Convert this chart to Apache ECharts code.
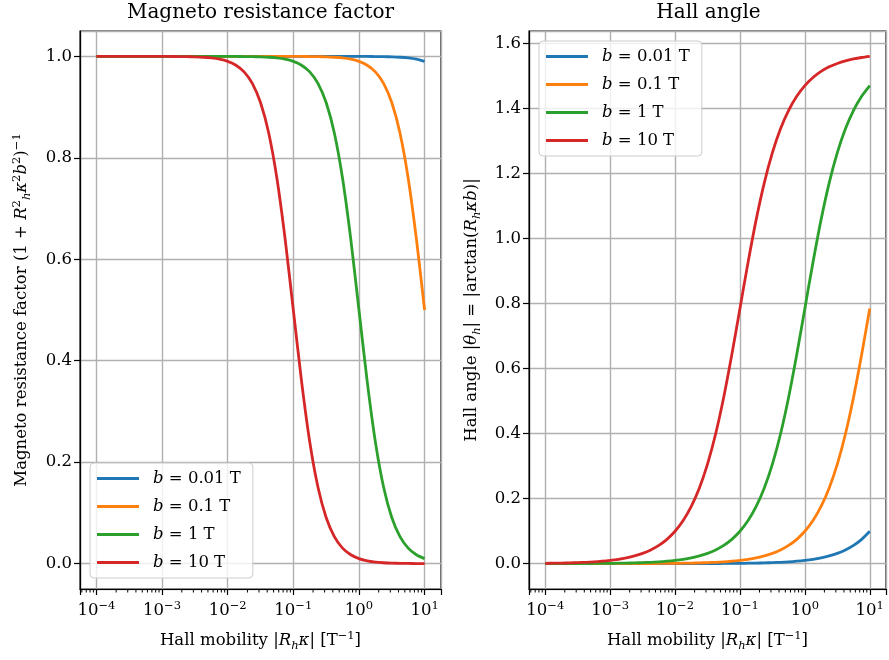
<!DOCTYPE html>
<html>
<head>
<meta charset="utf-8">
<script src="https://cdn.jsdelivr.net/npm/echarts@6/dist/echarts.min.js"></script>
<style>html,body{margin:0;padding:0;background:#fff;}#c{width:889px;height:660px;}</style>
</head>
<body>
<div id="c"></div>
<script>
// Hall mobility |R_h kappa| (x), 1/8-decade steps from 1e-4 to 1e1
const mobility = [1e-4,1.334e-4,1.778e-4,2.371e-4,3.162e-4,4.217e-4,5.623e-4,7.499e-4,
  1e-3,1.334e-3,1.778e-3,2.371e-3,3.162e-3,4.217e-3,5.623e-3,7.499e-3,
  1e-2,1.334e-2,1.778e-2,2.371e-2,3.162e-2,4.217e-2,5.623e-2,7.499e-2,
  1e-1,1.334e-1,1.778e-1,2.371e-1,3.162e-1,4.217e-1,5.623e-1,7.499e-1,
  1,1.334,1.778,2.371,3.162,4.217,5.623,7.499,10];
const seriesNames = ['b = 0.01 T','b = 0.1 T','b = 1 T','b = 10 T'];
const colors = ['#1f77b4','#ff7f0e','#2ca02c','#d62728'];
// Magneto resistance factor
const mr_b001 = [1,1,1,1,1,1,1,1,1,1,1,1,1,1,1,1,1,1,1,1,1,1,1,1,1,1,1,1,1,1,1,
  0.99994,0.9999,0.99982,0.99968,0.99944,0.999,0.99823,0.99685,0.99441,0.9901];
const mr_b01 = [1,1,1,1,1,1,1,1,1,1,1,1,1,1,1,1,1,1,1,1,1,1,1,
  0.99994,0.9999,0.99982,0.99968,0.99944,0.999,0.99823,0.99685,0.99441,0.9901,
  0.98253,0.96935,0.94676,0.90909,0.84902,0.75975,0.64006,0.5];
const mr_b1 = [1,1,1,1,1,1,1,1,1,1,1,1,1,1,1,
  0.99994,0.9999,0.99982,0.99968,0.99944,0.999,0.99823,0.99685,0.99441,0.9901,
  0.98253,0.96935,0.94676,0.90909,0.84902,0.75975,0.64006,0.5,
  0.35994,0.24025,0.15098,0.09091,0.05324,0.03065,0.01747,0.0099];
const mr_b10 = [1,1,1,1,1,1,1,
  0.99994,0.9999,0.99982,0.99968,0.99944,0.999,0.99823,0.99685,0.99441,0.9901,
  0.98253,0.96935,0.94676,0.90909,0.84902,0.75975,0.64006,0.5,
  0.35994,0.24025,0.15098,0.09091,0.05324,0.03065,0.01747,0.0099,
  0.00559,0.00315,0.00178,0.001,0.00056,0.00032,0.00018,0.0001];
// Hall angle
const ha_b001 = [0.000001,0.0000013,0.0000018,0.0000024,0.0000032,0.0000042,0.0000056,0.0000075,
  0.00001,0.000013,0.000018,0.000024,0.000032,0.000042,0.000056,0.000075,
  0.0001,0.00013,0.00018,0.00024,0.00032,0.00042,0.00056,0.00075,
  0.001,0.00133,0.00178,0.00237,0.00316,0.00422,0.00562,0.0075,
  0.01,0.01333,0.01778,0.02371,0.03161,0.04215,0.05618,0.07485,0.09967];
const ha_b01 = [0.00001,0.000013,0.000018,0.000024,0.000032,0.000042,0.000056,0.000075,
  0.0001,0.00013,0.00018,0.00024,0.00032,0.00042,0.00056,0.00075,
  0.001,0.00133,0.00178,0.00237,0.00316,0.00422,0.00562,0.0075,
  0.01,0.01333,0.01778,0.02371,0.03161,0.04215,0.05618,0.07485,
  0.09967,0.13257,0.17599,0.23284,0.30628,0.39907,0.51227,0.64343,0.7854];
const ha_b1 = [0.0001,0.00013,0.00018,0.00024,0.00032,0.00042,0.00056,0.00075,
  0.001,0.00133,0.00178,0.00237,0.00316,0.00422,0.00562,0.0075,
  0.01,0.01333,0.01778,0.02371,0.03161,0.04215,0.05618,0.07485,
  0.09967,0.13257,0.17599,0.23284,0.30628,0.39907,0.51227,0.64343,
  0.7854,0.92736,1.05853,1.17172,1.26452,1.33796,1.39481,1.43823,1.47113];
const ha_b10 = [0.001,0.00133,0.00178,0.00237,0.00316,0.00422,0.00562,0.0075,
  0.01,0.01333,0.01778,0.02371,0.03161,0.04215,0.05618,0.07485,
  0.09967,0.13257,0.17599,0.23284,0.30628,0.39907,0.51227,0.64343,
  0.7854,0.92736,1.05853,1.17172,1.26452,1.33796,1.39481,1.43823,
  1.47113,1.49595,1.51462,1.52865,1.53918,1.54709,1.55302,1.55746,1.5608];
// minor tick positions on the log x axis
const minorTicks = [6e-5,7e-5,8e-5,9e-5,
  2e-4,3e-4,4e-4,5e-4,6e-4,7e-4,8e-4,9e-4,
  2e-3,3e-3,4e-3,5e-3,6e-3,7e-3,8e-3,9e-3,
  2e-2,3e-2,4e-2,5e-2,6e-2,7e-2,8e-2,9e-2,
  0.2,0.3,0.4,0.5,0.6,0.7,0.8,0.9,
  2,3,4,5,6,7,8,9];

const FONT = 'DejaVu Serif';
const FS = 16.5;
const rich = {
  n: {fontFamily: FONT, fontSize: FS, lineHeight: 22, color: '#000'},
  i: {fontFamily: FONT, fontSize: FS, lineHeight: 22, fontStyle: 'italic', color: '#000'},
  sup: {fontFamily: FONT, fontSize: 11.5, lineHeight: 9, verticalAlign: 'top', color: '#000'},
  sub: {fontFamily: FONT, fontSize: 11.5, lineHeight: 15, verticalAlign: 'bottom', fontStyle: 'italic', color: '#000'}
};
function pair(xs, ys){ return xs.map((x, k) => [x, ys[k]]); }
const mrData = [mr_b001, mr_b01, mr_b1, mr_b10];
const haData = [ha_b001, ha_b01, ha_b1, ha_b10];

function xAxisCfg(gi){
  return {
    type: 'log', logBase: 10, gridIndex: gi, min: 5.6234e-5, max: 17.7828,
    name: '{n|Hall mobility |}{i|R}{sub|h}{i|κ}{n|| [T}{sup|−1}{n|]}',
    nameLocation: 'middle', nameGap: 41,
    nameTextStyle: {rich: rich},
    axisLine: {show: true, onZero: false, lineStyle: {color: '#000', width: 1.2}},
    axisTick: {show: true, length: 6, lineStyle: {color: '#000', width: 1.2}},
    axisLabel: {margin: 11, rich: rich, formatter: function(v){
      const l = Math.log10(v); const e = Math.round(l);
      if (Math.abs(l - e) > 1e-6) return '';
      return '{n|10}{sup|' + (e < 0 ? '−' + (-e) : e) + '}';
    }},
    splitLine: {show: true, lineStyle: {color: '#b0b0b0', width: 1.4}}
  };
}
function yAxisCfg(gi, mn, mx, split, name, gap){
  return {
    type: 'value', gridIndex: gi, min: mn, max: mx, splitNumber: split, minInterval: 0.2, maxInterval: 0.2,
    name: name, nameLocation: 'middle', nameGap: gap, nameRotate: 90,
    nameTextStyle: {rich: rich},
    axisLine: {show: true, onZero: false, lineStyle: {color: '#000', width: 1.2}},
    axisTick: {show: true, length: 6, lineStyle: {color: '#000', width: 1.2}},
    axisLabel: {margin: 8, fontFamily: FONT, fontSize: FS, color: '#000', showMinLabel: false, showMaxLabel: false,
      formatter: function(v){
        const r = Math.round(v * 5) / 5;
        return Math.abs(v - r) < 1e-6 ? r.toFixed(1) : '';
      }},
    splitLine: {show: true, lineStyle: {color: '#b0b0b0', width: 1.4}}
  };
}
const series = [];
for (let k = 0; k < 4; k++) {
  series.push({type: 'line', name: seriesNames[k], xAxisIndex: 0, yAxisIndex: 0,
    data: pair(mobility, mrData[k]), showSymbol: false, smooth: 0.25,
    lineStyle: {width: 2.8, color: colors[k], join: 'round'}, itemStyle: {color: colors[k]}, z: 3 + k});
}
for (let k = 0; k < 4; k++) {
  series.push({type: 'line', name: seriesNames[k], xAxisIndex: 1, yAxisIndex: 1,
    data: pair(mobility, haData[k]), showSymbol: false, smooth: 0.25,
    lineStyle: {width: 2.8, color: colors[k], join: 'round'}, itemStyle: {color: colors[k]}, z: 3 + k});
}
const yMins = [-0.05, -0.078];
for (let g = 0; g < 2; g++) {
  series.push({type: 'custom', xAxisIndex: g, yAxisIndex: g, clip: false, silent: true,
    data: minorTicks.map(v => [v]),
    renderItem: function(params, api){
      const p = api.coord([api.value(0), yMins[g]]);
      return {type: 'line', shape: {x1: p[0], y1: p[1], x2: p[0], y2: p[1] + 3.5},
        style: {stroke: '#000', lineWidth: 1}};
    }});
}
function legendCfg(left, top){
  return {orient: 'vertical', left: left, top: top, data: seriesNames,
    icon: 'rect', itemWidth: 42, itemHeight: 3, itemGap: 6,
    padding: [4.5, 12, 4.5, 7],
    backgroundColor: 'rgba(255,255,255,0.8)', borderColor: '#cccccc', borderWidth: 1, borderRadius: 4,
    selectedMode: false,
    formatter: function(name){ return '{i|b}{n|' + name.slice(1) + '}'; },
    textStyle: {padding: [0, 0, 0, 9], rich: rich, lineHeight: 22}};
}
const chart = echarts.init(document.getElementById('c'));
chart.setOption({
  animation: false,
  backgroundColor: '#fff',
  title: [
    {text: 'Magneto resistance factor', left: 260.5, textAlign: 'center', top: 3, padding: 0,
      textStyle: {fontFamily: FONT, fontSize: 20, fontWeight: 'normal', color: '#000'}},
    {text: 'Hall angle', left: 708.5, textAlign: 'center', top: 3, padding: 0,
      textStyle: {fontFamily: FONT, fontSize: 20, fontWeight: 'normal', color: '#000'}}
  ],
  grid: [
    {left: 80, top: 31, width: 361, height: 558, show: true, borderColor: '#000', borderWidth: 1.2, backgroundColor: 'transparent'},
    {left: 529, top: 31, width: 359, height: 558, show: true, borderColor: '#000', borderWidth: 1.2, backgroundColor: 'transparent'}
  ],
  xAxis: [xAxisCfg(0), xAxisCfg(1)],
  yAxis: [
    yAxisCfg(0, -0.05, 1.05, 5, '{n|Magneto resistance factor (1 + }{i|R}{sup|2}{sub|h}{i|κ}{sup|2}{i|b}{sup|2}{n|)}{sup|−1}', 47),
    yAxisCfg(1, -0.078, 1.639, 8, '{n|Hall angle |}{i|θ}{sub|h}{n|| = |arctan(}{i|R}{sub|h}{i|κb}{n|)|}', 46)
  ],
  legend: [legendCfg(90, 463), legendCfg(539, 41)],
  series: series
});
</script>
</body>
</html>
